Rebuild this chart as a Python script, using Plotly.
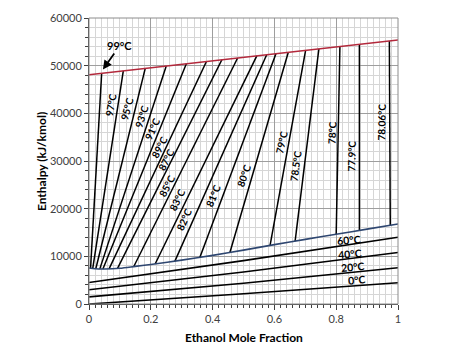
import plotly.graph_objects as go

# ---------------- data ----------------
# saturated vapour enthalpy curve (red)
x_vap_curve = [0.0, 0.5, 1.0]
h_vap_curve = [48100, 51750, 55400]

# saturated liquid enthalpy curve (blue)
x_liq_curve = [0.0, 0.02, 0.05, 0.1, 0.15, 0.2, 0.3, 0.4, 0.5, 0.6, 0.7, 0.8, 0.9, 1.0]
h_liq_curve = [7550, 7400, 7350, 7500, 7900, 8300, 9200, 10200, 11300, 12450, 13550, 14650, 15700, 16800]

# tie lines: liquid end (x, H) and vapour end (y, H)
tie_labels = ["99°C", "97°C", "95°C", "93°C", "91°C", "89°C", "87°C", "85°C", "83°C",
              "82°C", "81°C", "80°C", "79°C", "78.5°C", "78°C", "77.9°C", "78.06°C"]
tie_x_liq = [0.005, 0.012, 0.022, 0.035, 0.045, 0.065, 0.092, 0.145, 0.214,
             0.278, 0.359, 0.456, 0.586, 0.667, 0.80, 0.875, 0.975]
tie_h_liq = [7480, 7440, 7400, 7370, 7350, 7360, 7430, 7870, 8400,
             9000, 9800, 10800, 12300, 13200, 14650, 15450, 16550]
tie_y_vap = [0.041, 0.111, 0.182, 0.250, 0.315, 0.380, 0.430, 0.481, 0.543,
             0.575, 0.605, 0.645, 0.701, 0.744, 0.812, 0.875, 0.972]
tie_h_vap = [48400, 48910, 49430, 49930, 50400, 50870, 51240, 51610, 52060,
             52300, 52520, 52810, 53220, 53530, 54030, 54490, 55200]

# sub-cooled liquid lines
sub_labels = ["60°C", "40°C", "20°C", "0°C"]
sub_x = [0.0, 0.5, 1.0]
sub_h = [
    [4500, 9100, 14000],
    [3000, 6700, 10800],
    [1500, 4350, 7600],
    [0, 2150, 4450],
]

x_ticks = [0, 0.2, 0.4, 0.6, 0.8, 1]
y_ticks = [0, 10000, 20000, 30000, 40000, 50000, 60000]

# label placement (data coordinates) and rotation
tie_label_x = [None, 0.0712, 0.1214, 0.1706, 0.2071, 0.2278, 0.2492, 0.2508, 0.2848,
               0.3091, 0.4013, 0.5016, 0.6214, 0.6699, 0.7848, 0.8495, 0.9466]
tie_label_y = [None, 41700, 41000, 39440, 36820, 32940, 30210, 24860, 21820,
               17730, 22660, 27060, 33880, 28850, 35980, 31050, 38180]
tie_label_angle = [0, -80, -75, -72, -66, -63, -63, -63, -64,
                   -66, -68, -70, -78, -82, -88, -89, -89]
sub_label_x = [0.843, 0.846, 0.854, 0.867]
sub_label_y = [13490, 10550, 7760, 5140]

FONT = "Lato, Carlito, Calibri, Open Sans, sans-serif"

fig = go.Figure()

# tie lines
for i in range(len(tie_labels)):
    fig.add_trace(go.Scatter(
        x=[tie_x_liq[i], tie_y_vap[i]], y=[tie_h_liq[i], tie_h_vap[i]],
        mode="lines", line=dict(color="black", width=1.5),
        showlegend=False, hoverinfo="skip"))

# sub-cooled lines
for i in range(len(sub_labels)):
    fig.add_trace(go.Scatter(
        x=sub_x, y=sub_h[i], mode="lines",
        line=dict(color="black", width=1.6, shape="spline", smoothing=0.6),
        showlegend=False, hoverinfo="skip"))

# liquid curve
fig.add_trace(go.Scatter(
    x=x_liq_curve, y=h_liq_curve, mode="lines",
    line=dict(color="#2E4670", width=1.6, shape="spline", smoothing=0.8),
    showlegend=False, hoverinfo="skip"))

# vapour curve
fig.add_trace(go.Scatter(
    x=x_vap_curve, y=h_vap_curve, mode="lines",
    line=dict(color="#B3293C", width=1.6),
    showlegend=False, hoverinfo="skip"))

annotations = []
for i in range(1, len(tie_labels)):
    annotations.append(dict(
        x=tie_label_x[i], y=tie_label_y[i], xref="x", yref="y",
        text="<b>%s</b>" % tie_labels[i], showarrow=False,
        textangle=tie_label_angle[i],
        font=dict(family=FONT, size=10, color="black")))
# 99 °C with arrow
annotations.append(dict(
    x=tie_y_vap[0] + 0.004, y=tie_h_vap[0] + 800, xref="x", yref="y",
    text="<b>%s</b>" % tie_labels[0], showarrow=True,
    arrowhead=2, arrowsize=1, arrowwidth=1.8, arrowcolor="black",
    ax=17, ay=-24,
    font=dict(family=FONT, size=11, color="black")))
for i in range(len(sub_labels)):
    annotations.append(dict(
        x=sub_label_x[i], y=sub_label_y[i], xref="x", yref="y",
        text="<b>%s</b>" % sub_labels[i], showarrow=False, textangle=-5,
        font=dict(family=FONT, size=10.5, color="black")))

# axis titles
annotations.append(dict(
    x=0.5016, y=-0.1154, xref="paper", yref="paper", xanchor="center", yanchor="middle",
    text="<b>Ethanol Mole Fraction</b>", showarrow=False,
    font=dict(family=FONT, size=12, color="black")))
annotations.append(dict(
    x=-0.155, y=0.4965, xref="paper", yref="paper", xanchor="center", yanchor="middle",
    text="<b>Enthalpy (kJ/kmol)</b>", showarrow=False, textangle=-90,
    font=dict(family=FONT, size=12, color="black")))

fig.update_layout(
    width=474, height=361,
    margin=dict(l=89, r=76, t=18, b=57, pad=0),
    paper_bgcolor="white", plot_bgcolor="white",
    font=dict(family=FONT, size=11, color="#404040"),
    annotations=annotations,
    showlegend=False,
)

fig.update_xaxes(
    range=[0, 1], tickvals=x_ticks, ticktext=[str(v) for v in x_ticks],
    showgrid=True, gridcolor="#9E9E9E", gridwidth=1,
    minor=dict(dtick=0.02, tick0=0, showgrid=True, gridcolor="#D6D6D6", gridwidth=1,
               ticks="outside", ticklen=3, tickcolor="#404040"),
    ticks="outside", ticklen=5, tickcolor="#404040",
    showline=True, linecolor="#404040", linewidth=1,
    zeroline=False, mirror=False,
    tickfont=dict(family=FONT, size=11, color="#404040"),
)
fig.update_yaxes(
    range=[0, 60000], tickvals=y_ticks, tickformat="d",
    showgrid=True, gridcolor="#9E9E9E", gridwidth=1,
    minor=dict(dtick=2000, tick0=0, showgrid=True, gridcolor="#D6D6D6", gridwidth=1,
               ticks="outside", ticklen=3, tickcolor="#404040"),
    ticks="outside", ticklen=4, tickcolor="#404040",
    showline=True, linecolor="#404040", linewidth=1,
    zeroline=False, mirror=False,
    tickfont=dict(family=FONT, size=11, color="#404040"),
)

# outer frame
fig.add_shape(type="rect", xref="paper", yref="paper", x0=0, y0=0, x1=1, y1=1,
              line=dict(color="#8C8C8C", width=1), layer="above")

fig.write_html("out.html", config={"displayModeBar": False},
               post_script="document.body.style.margin='0';document.body.style.padding='0';")
